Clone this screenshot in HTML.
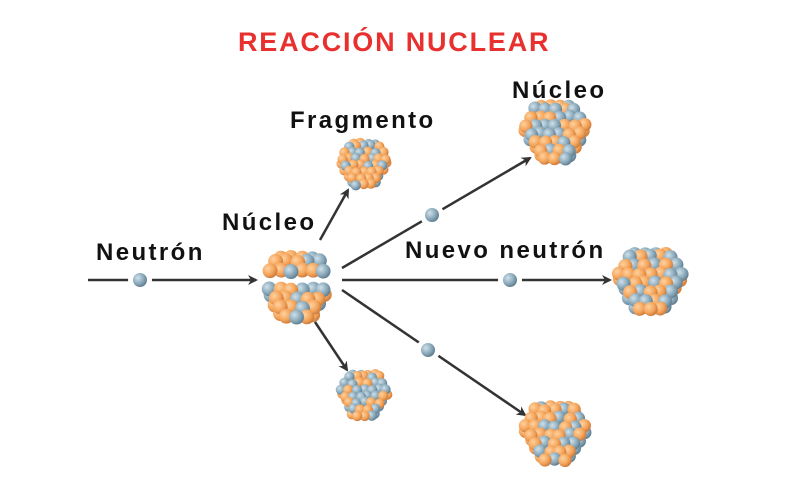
<!DOCTYPE html>
<html><head><meta charset="utf-8"><style>
body{margin:0;background:#fff;width:800px;height:500px;overflow:hidden}
svg{display:block}
text{font-family:"Liberation Sans",sans-serif}
</style></head><body>
<svg id="s" width="800" height="500" viewBox="0 0 800 500">
<defs>
<marker id="a" markerWidth="10" markerHeight="10" refX="8" refY="5" orient="auto" markerUnits="userSpaceOnUse"><path d="M0,0 L10,5 L0,10 L3,5z" fill="#333"/></marker>
<radialGradient id="o" cx="35%" cy="35%" r="70%"><stop offset="0" stop-color="#ffd2a0"/><stop offset="0.6" stop-color="#f4a45a"/><stop offset="1" stop-color="#c8783a"/></radialGradient>
<radialGradient id="b" cx="35%" cy="35%" r="70%"><stop offset="0" stop-color="#cfe0ea"/><stop offset="0.6" stop-color="#8aa9ba"/><stop offset="1" stop-color="#5d7b8c"/></radialGradient>
</defs>
<text x="238" y="51" fill="#e8302e" font-size="27" font-weight="bold" letter-spacing="1.8">REACCIÓN NUCLEAR</text>
<g font-size="24" fill="#111" font-weight="bold" letter-spacing="2.4">
<text x="96" y="260">Neutrón</text>
<text x="222" y="230">Núcleo</text>
<text x="290" y="128">Fragmento</text>
<text x="512" y="98">Núcleo</text>
<text x="405" y="258">Nuevo neutrón</text>
</g>
<g stroke="#333" stroke-width="2.5" fill="none" marker-end="url(#a)">
<line x1="88" y1="280" x2="256" y2="280"/>
<line x1="320" y1="240" x2="348" y2="190"/>
<line x1="315" y1="322" x2="347" y2="370"/>
<line x1="342" y1="268" x2="530" y2="158"/>
<line x1="342" y1="280" x2="610" y2="280"/>
<line x1="342" y1="290" x2="525" y2="415"/>
</g>
<g id="n"></g>
</svg>
<script>
var g=document.getElementById('n'),ns='http://www.w3.org/2000/svg',seed=7;
function r(){seed=(seed*9301+49297)%233280;return seed/233280;}
function ball(x,y,rad,f){var c=document.createElementNS(ns,'circle');c.setAttribute('cx',x);c.setAttribute('cy',y);c.setAttribute('r',rad);c.setAttribute('fill','url(#'+f+')');g.appendChild(c);}
function nuc(cx,cy,R,y0,y1){var br=R*0.19,s=br*1.45,pts=[];
 for(var layer=0;layer<2;layer++){var off=layer*s*0.5;
 for(var j=-8;j<=8;j++){var y=cy+j*s*0.866+off*0.6;for(var i=-8;i<=8;i++){var x=cx+i*s+(j%2?s/2:0)+off;
  var dx=x-cx,dy=y-cy;if(dx*dx+dy*dy>(R-br*0.8)*(R-br*0.8))continue;
  if(y0!==undefined&&(y<y0||y>y1))continue;
  pts.push([x+(r()-.5)*2,y+(r()-.5)*2,layer]);}}}
 pts.sort(function(a,b){return a[2]-b[2]||a[1]-b[1];});
 pts.forEach(function(p){ball(p[0],p[1],br,r()<.5?'o':'b');});}
[[140,280],[432,215],[510,280],[428,350]].forEach(function(p){var c=document.createElementNS(ns,'circle');c.setAttribute('cx',p[0]);c.setAttribute('cy',p[1]);c.setAttribute('r',12);c.setAttribute('fill','#fff');g.appendChild(c);ball(p[0],p[1],7,'b');});
nuc(297,286,39,240,276);
nuc(297,286,39,289,330);
nuc(364,163,27);nuc(364,394,27);
nuc(555,131,35);nuc(650,280,37);nuc(555,432,35);
</script>
</body></html>
